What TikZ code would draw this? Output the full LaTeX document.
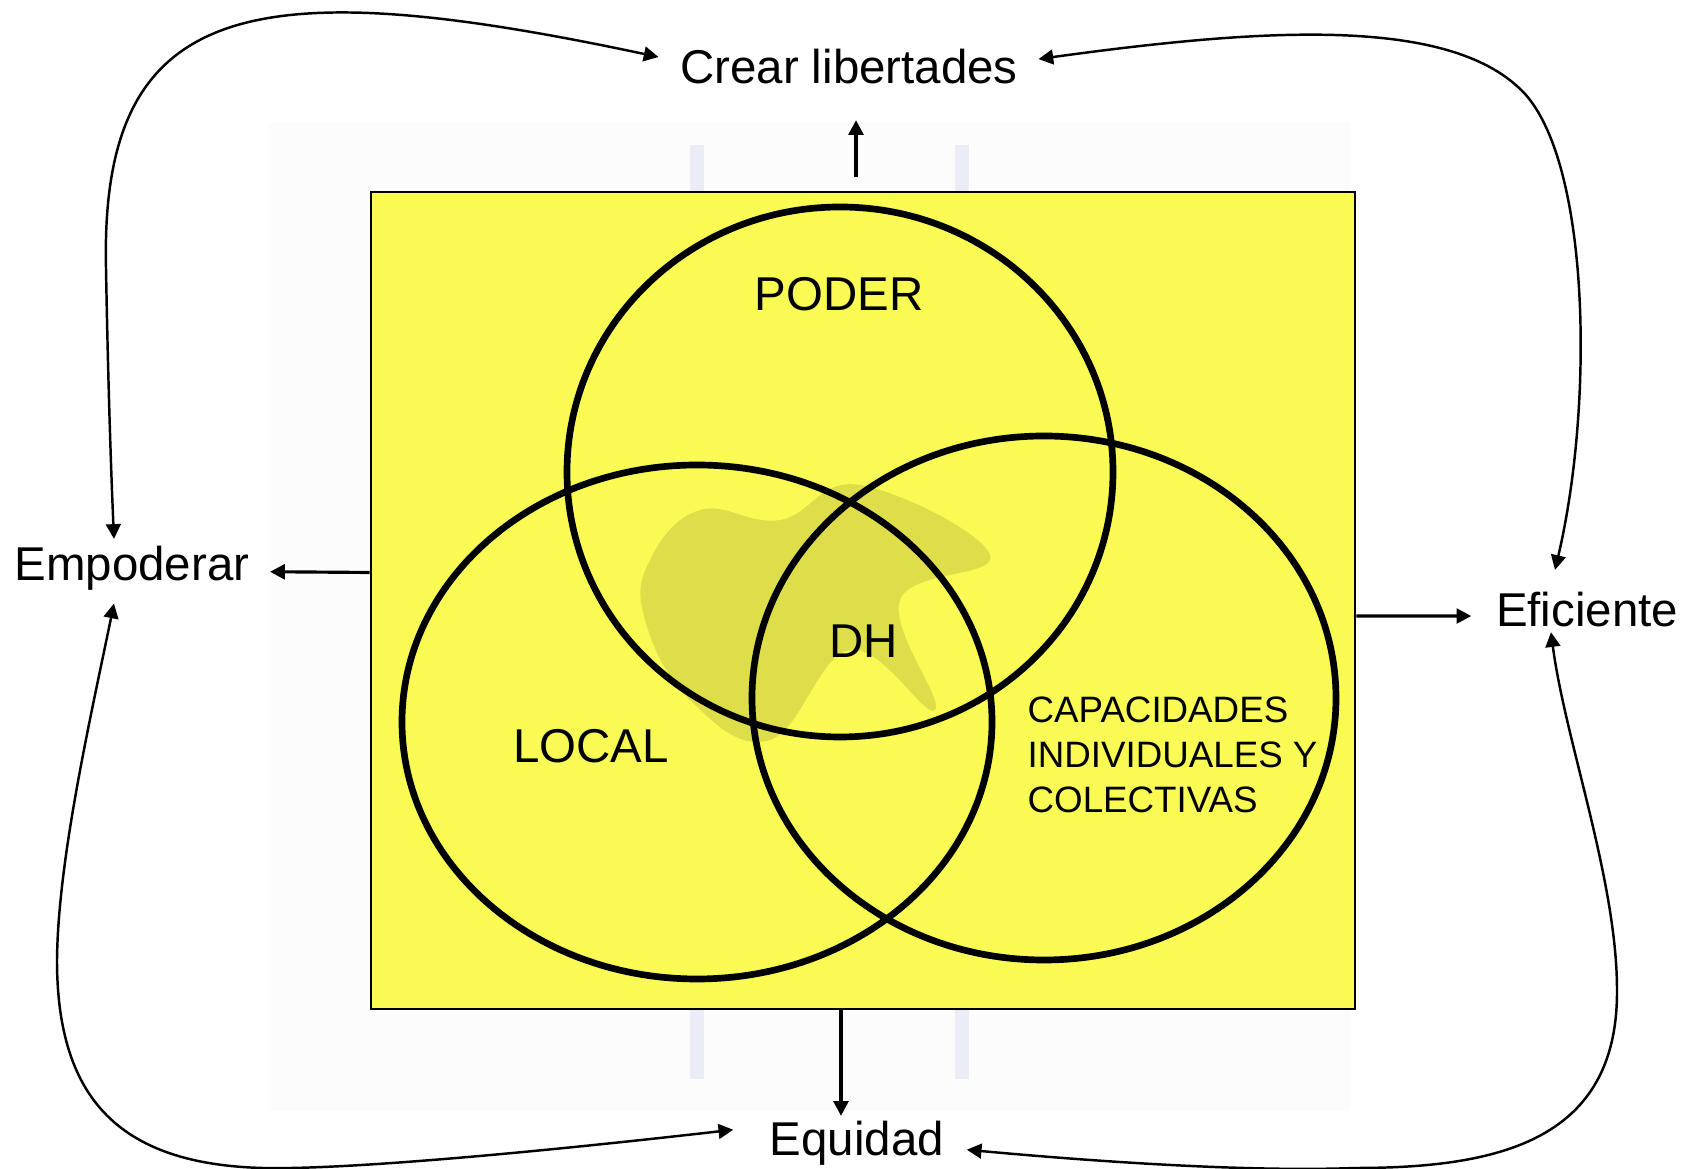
\documentclass[tikz,border=0pt]{standalone}
\usepackage{fontspec}
\setmainfont{Liberation Sans}
\usetikzlibrary{calc,arrows.meta}

\definecolor{amarillo}{RGB}{250,250,85}
\definecolor{marca}{RGB}{234,236,246}
\def\grosor{1.9pt}

\begin{document}
\begin{tikzpicture}[x=0.1mm,y=-0.1mm,
    etiqueta/.style={inner sep=0pt,anchor=base,font=\fontsize{13.5}{16}\selectfont},
    flecha/.style={-{Triangle[length=4.2pt,width=4.2pt]},line width=0.9pt},
    lazo/.style={{Triangle[length=4.2pt,width=4.2pt]}-{Triangle[length=4.2pt,width=4.2pt]},line width=0.7pt},
    venn/.style={line width=\grosor}]
  \useasboundingbox (0,0) rectangle (1692,1169);
  % fondo de la marca de agua
  \fill[black!1] (268,122) rectangle (1351,1111);
  \foreach \bx in {690,955}{%
    \fill[marca] (\bx,145) rectangle +(14,47);
    \fill[marca] (\bx,1009) rectangle +(14,70);
  }
  % recuadro amarillo
  \node[draw,line width=0.8pt,fill=amarillo,inner sep=0pt,
        minimum width=9.84cm,minimum height=8.17cm] (marco) at (863,600.5) {};
  \fill[black,opacity=.11] plot[smooth cycle,tension=0.7] coordinates {%
    (650,560) (700,510) (780,520) (860,485) (990,555) (900,600)
    (935,710) (850,650) (770,740) (690,700) (645,620)};
  % los tres circulos
  \foreach \cx/\cy/\rx/\ry in {840/472/273/265, 697/722/295/257, 1044/698/292/262}
    \draw[venn] (\cx,\cy) ellipse [x radius=\rx, y radius=\ry];
  % textos de dentro
  \node[etiqueta] (poder) at (839,311) {PODER};
  \node[etiqueta] (dh) at (864,658) {DH};
  \node[etiqueta] (local) at (591,763) {LOCAL};
  \node[inner sep=0pt,anchor=north west,align=left,
        font=\fontsize{10.45}{12.8}\selectfont] (capac) at (1027,696)
        {CAPACIDADES\\INDIVIDUALES Y\\COLECTIVAS};
  % textos de fuera
  \node[etiqueta] (crear) at (849,84) {Crear libertades};
  \node[etiqueta] (emp) at (132,581) {Empoderar};
  \node[etiqueta] (efic) at (1587,627) {Eficiente};
  \node[etiqueta] (equi) at (857,1156) {Equidad};
  % flechas rectas
  \draw[flecha] ($(marco.north)+(-7,-14)$) -- ($(crear.south)+(7,35)$);
  \draw[flecha] ($(marco.west)+(0,-28)$) -- ($(emp.east)+(20,3)$);
  \draw[flecha] ($(marco.east)+(0,15.5)$) -- ($(efic.west)+(-24,6)$);
  \draw[flecha] ($(marco.south)+(-22,0)$) -- ($(equi.north)+(-16,-5)$);
  % lazos exteriores
  \draw[lazo] ($(crear.west)+(-21,-10)$) .. controls (250,-30) and (100,0) .. (106,268)
    .. controls (108,380) and (111,470) .. ($(emp.north)+(-18,-7)$);
  \draw[lazo] ($(crear.east)+(20,-8)$) .. controls (1250,30) and (1440,15) .. (1518,87)
    .. controls (1590,150) and (1595,400) .. ($(efic.north)+(-32,-22)$);
  \draw[lazo] ($(emp.south)+(-18,12)$) .. controls (90,720) and (58,860) .. (57,960)
    .. controls (57,1110) and (130,1172) .. (291,1168)
    .. controls (400,1166) and (600,1145) .. ($(equi.west)+(-36,-14)$);
  \draw[lazo] ($(equi.east)+(22,6)$) .. controls (1100,1162) and (1250,1172) .. (1355,1168)
    .. controls (1500,1168) and (1618,1140) .. (1617,990)
    .. controls (1617,880) and (1565,740) .. ($(efic.south)+(-36,4)$);
\end{tikzpicture}
\end{document}
